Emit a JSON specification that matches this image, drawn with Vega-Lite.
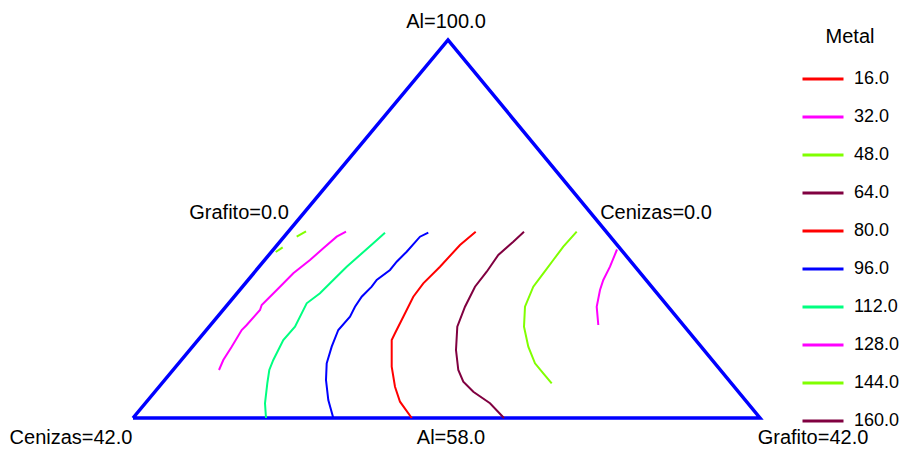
{
  "$schema": "https://vega.github.io/schema/vega-lite/v6.json",
  "width": 901,
  "height": 454,
  "padding": 0,
  "autosize": {"type": "fit", "contains": "padding"},
  "background": "white",
  "config": {"view": {"stroke": null}},
  "datasets": {
    "frame": [
      {"i": 0, "x": 133, "y": 418},
      {"i": 1, "x": 448, "y": 40},
      {"i": 2, "x": 760, "y": 418},
      {"i": 3, "x": 133, "y": 418}
    ],
    "labels": [
      {"text": "Al=100.0", "x": 446, "y": 22},
      {"text": "Grafito=0.0", "x": 239, "y": 213},
      {"text": "Cenizas=0.0", "x": 656, "y": 213},
      {"text": "Cenizas=42.0", "x": 71, "y": 438},
      {"text": "Al=58.0", "x": 451, "y": 438},
      {"text": "Grafito=42.0", "x": 813, "y": 438}
    ],
    "contours": [
      {"Metal": "144.0", "seg": "144a", "i": 0, "x": 275.7, "y": 252},
      {"Metal": "144.0", "seg": "144a", "i": 1, "x": 282.7, "y": 247.3},
      {"Metal": "144.0", "seg": "144b", "i": 0, "x": 296.7, "y": 236.7},
      {"Metal": "144.0", "seg": "144b", "i": 1, "x": 306, "y": 231.3},

      {"Metal": "128.0", "seg": "128", "i": 0, "x": 219, "y": 370},
      {"Metal": "128.0", "seg": "128", "i": 1, "x": 223.3, "y": 360},
      {"Metal": "128.0", "seg": "128", "i": 2, "x": 231.7, "y": 346.7},
      {"Metal": "128.0", "seg": "128", "i": 3, "x": 241.7, "y": 330},
      {"Metal": "128.0", "seg": "128", "i": 4, "x": 246.7, "y": 325},
      {"Metal": "128.0", "seg": "128", "i": 5, "x": 260, "y": 310},
      {"Metal": "128.0", "seg": "128", "i": 6, "x": 261.7, "y": 305},
      {"Metal": "128.0", "seg": "128", "i": 7, "x": 270, "y": 296.7},
      {"Metal": "128.0", "seg": "128", "i": 8, "x": 280, "y": 286.7},
      {"Metal": "128.0", "seg": "128", "i": 9, "x": 293.3, "y": 273.3},
      {"Metal": "128.0", "seg": "128", "i": 10, "x": 310, "y": 260},
      {"Metal": "128.0", "seg": "128", "i": 11, "x": 323.3, "y": 248.3},
      {"Metal": "128.0", "seg": "128", "i": 12, "x": 336.7, "y": 236.7},
      {"Metal": "128.0", "seg": "128", "i": 13, "x": 346, "y": 231.7},

      {"Metal": "112.0", "seg": "112", "i": 0, "x": 266, "y": 418},
      {"Metal": "112.0", "seg": "112", "i": 1, "x": 265, "y": 403.3},
      {"Metal": "112.0", "seg": "112", "i": 2, "x": 267.3, "y": 383.3},
      {"Metal": "112.0", "seg": "112", "i": 3, "x": 269.3, "y": 370},
      {"Metal": "112.0", "seg": "112", "i": 4, "x": 273.3, "y": 360},
      {"Metal": "112.0", "seg": "112", "i": 5, "x": 283.3, "y": 340},
      {"Metal": "112.0", "seg": "112", "i": 6, "x": 295, "y": 326.7},
      {"Metal": "112.0", "seg": "112", "i": 7, "x": 306.7, "y": 303.3},
      {"Metal": "112.0", "seg": "112", "i": 8, "x": 320, "y": 293.3},
      {"Metal": "112.0", "seg": "112", "i": 9, "x": 333.3, "y": 280},
      {"Metal": "112.0", "seg": "112", "i": 10, "x": 346.7, "y": 266.7},
      {"Metal": "112.0", "seg": "112", "i": 11, "x": 360, "y": 255},
      {"Metal": "112.0", "seg": "112", "i": 12, "x": 373.3, "y": 243.3},
      {"Metal": "112.0", "seg": "112", "i": 13, "x": 385, "y": 232.7},

      {"Metal": "96.0", "seg": "96", "i": 0, "x": 333.3, "y": 418},
      {"Metal": "96.0", "seg": "96", "i": 1, "x": 328.3, "y": 400},
      {"Metal": "96.0", "seg": "96", "i": 2, "x": 326, "y": 380},
      {"Metal": "96.0", "seg": "96", "i": 3, "x": 326.7, "y": 363.3},
      {"Metal": "96.0", "seg": "96", "i": 4, "x": 331.7, "y": 346.7},
      {"Metal": "96.0", "seg": "96", "i": 5, "x": 338.3, "y": 330},
      {"Metal": "96.0", "seg": "96", "i": 6, "x": 350, "y": 316.7},
      {"Metal": "96.0", "seg": "96", "i": 7, "x": 355, "y": 306.7},
      {"Metal": "96.0", "seg": "96", "i": 8, "x": 361.7, "y": 296.7},
      {"Metal": "96.0", "seg": "96", "i": 9, "x": 371.7, "y": 286.7},
      {"Metal": "96.0", "seg": "96", "i": 10, "x": 376.7, "y": 280},
      {"Metal": "96.0", "seg": "96", "i": 11, "x": 390, "y": 270},
      {"Metal": "96.0", "seg": "96", "i": 12, "x": 396.7, "y": 261.7},
      {"Metal": "96.0", "seg": "96", "i": 13, "x": 406.7, "y": 251.7},
      {"Metal": "96.0", "seg": "96", "i": 14, "x": 420, "y": 236.7},
      {"Metal": "96.0", "seg": "96", "i": 15, "x": 428.3, "y": 232.7},

      {"Metal": "80.0", "seg": "80", "i": 0, "x": 411.7, "y": 418},
      {"Metal": "80.0", "seg": "80", "i": 1, "x": 400, "y": 401.7},
      {"Metal": "80.0", "seg": "80", "i": 2, "x": 395, "y": 386.7},
      {"Metal": "80.0", "seg": "80", "i": 3, "x": 391.7, "y": 366.7},
      {"Metal": "80.0", "seg": "80", "i": 4, "x": 391.7, "y": 340},
      {"Metal": "80.0", "seg": "80", "i": 5, "x": 395, "y": 333.3},
      {"Metal": "80.0", "seg": "80", "i": 6, "x": 403.3, "y": 316.7},
      {"Metal": "80.0", "seg": "80", "i": 7, "x": 413.3, "y": 296.7},
      {"Metal": "80.0", "seg": "80", "i": 8, "x": 423.3, "y": 283.3},
      {"Metal": "80.0", "seg": "80", "i": 9, "x": 440, "y": 266.7},
      {"Metal": "80.0", "seg": "80", "i": 10, "x": 460, "y": 245},
      {"Metal": "80.0", "seg": "80", "i": 11, "x": 475.7, "y": 231.7},

      {"Metal": "64.0", "seg": "64", "i": 0, "x": 504, "y": 418},
      {"Metal": "64.0", "seg": "64", "i": 1, "x": 490, "y": 403.3},
      {"Metal": "64.0", "seg": "64", "i": 2, "x": 473.3, "y": 391.7},
      {"Metal": "64.0", "seg": "64", "i": 3, "x": 463.3, "y": 381.7},
      {"Metal": "64.0", "seg": "64", "i": 4, "x": 458.3, "y": 370},
      {"Metal": "64.0", "seg": "64", "i": 5, "x": 456, "y": 350},
      {"Metal": "64.0", "seg": "64", "i": 6, "x": 457.3, "y": 326.7},
      {"Metal": "64.0", "seg": "64", "i": 7, "x": 465, "y": 306.7},
      {"Metal": "64.0", "seg": "64", "i": 8, "x": 475, "y": 286.7},
      {"Metal": "64.0", "seg": "64", "i": 9, "x": 486.7, "y": 271.7},
      {"Metal": "64.0", "seg": "64", "i": 10, "x": 498.3, "y": 255},
      {"Metal": "64.0", "seg": "64", "i": 11, "x": 513.3, "y": 241.7},
      {"Metal": "64.0", "seg": "64", "i": 12, "x": 524, "y": 231.7},

      {"Metal": "48.0", "seg": "48", "i": 0, "x": 551.7, "y": 383.3},
      {"Metal": "48.0", "seg": "48", "i": 1, "x": 543.3, "y": 373.3},
      {"Metal": "48.0", "seg": "48", "i": 2, "x": 535, "y": 363.3},
      {"Metal": "48.0", "seg": "48", "i": 3, "x": 528.3, "y": 346.7},
      {"Metal": "48.0", "seg": "48", "i": 4, "x": 524, "y": 326.7},
      {"Metal": "48.0", "seg": "48", "i": 5, "x": 525, "y": 306.7},
      {"Metal": "48.0", "seg": "48", "i": 6, "x": 533.3, "y": 286.7},
      {"Metal": "48.0", "seg": "48", "i": 7, "x": 543.3, "y": 273.3},
      {"Metal": "48.0", "seg": "48", "i": 8, "x": 553.3, "y": 260},
      {"Metal": "48.0", "seg": "48", "i": 9, "x": 563.3, "y": 246.7},
      {"Metal": "48.0", "seg": "48", "i": 10, "x": 576.7, "y": 231.7},

      {"Metal": "32.0", "seg": "32", "i": 0, "x": 617, "y": 249.5},
      {"Metal": "32.0", "seg": "32", "i": 1, "x": 610, "y": 266.7},
      {"Metal": "32.0", "seg": "32", "i": 2, "x": 603.3, "y": 280},
      {"Metal": "32.0", "seg": "32", "i": 3, "x": 600, "y": 290},
      {"Metal": "32.0", "seg": "32", "i": 4, "x": 596.7, "y": 306.7},
      {"Metal": "32.0", "seg": "32", "i": 5, "x": 598.3, "y": 325}
    ]
  },
  "layer": [
    {
      "data": {"name": "frame"},
      "mark": {"type": "line", "color": "#0000FF", "strokeWidth": 3.5, "strokeJoin": "miter"},
      "encoding": {
        "x": {"field": "x", "type": "quantitative", "scale": {"domain": [0, 901], "nice": false, "zero": false}, "axis": null},
        "y": {"field": "y", "type": "quantitative", "scale": {"domain": [0, 454], "nice": false, "zero": false, "reverse": true}, "axis": null},
        "order": {"field": "i", "type": "quantitative"}
      }
    },
    {
      "data": {"name": "contours"},
      "mark": {"type": "line", "strokeWidth": 2},
      "encoding": {
        "x": {"field": "x", "type": "quantitative"},
        "y": {"field": "y", "type": "quantitative"},
        "detail": {"field": "seg", "type": "nominal"},
        "order": {"field": "i", "type": "quantitative"},
        "color": {
          "field": "Metal",
          "type": "nominal",
          "scale": {
            "domain": ["16.0", "32.0", "48.0", "64.0", "80.0", "96.0", "112.0", "128.0", "144.0", "160.0"],
            "range": ["#FF0000", "#FF00FF", "#80FF00", "#800040", "#FF0000", "#0000FF", "#00FF80", "#FF00FF", "#80FF00", "#800040"]
          },
          "legend": {
            "title": "Metal",
            "orient": "none",
            "legendX": 801,
            "legendY": 27,
            "padding": 0,
            "titleFont": "Liberation Sans",
            "titleFontSize": 20,
            "titleFontWeight": "normal",
            "titleColor": "#000000",
            "titleAnchor": "middle",
            "titlePadding": 10,
            "labelFont": "Liberation Sans",
            "labelFontSize": 18,
            "labelColor": "#000000",
            "labelOffset": 9,
            "symbolType": "stroke",
            "symbolSize": 1681,
            "symbolStrokeWidth": 3,
            "rowPadding": 7
          }
        }
      }
    },
    {
      "data": {"name": "labels"},
      "mark": {"type": "text", "font": "Liberation Sans", "fontSize": 20, "color": "#000000", "align": "center", "baseline": "middle"},
      "encoding": {
        "x": {"field": "x", "type": "quantitative"},
        "y": {"field": "y", "type": "quantitative"},
        "text": {"field": "text", "type": "nominal"}
      }
    }
  ]
}
